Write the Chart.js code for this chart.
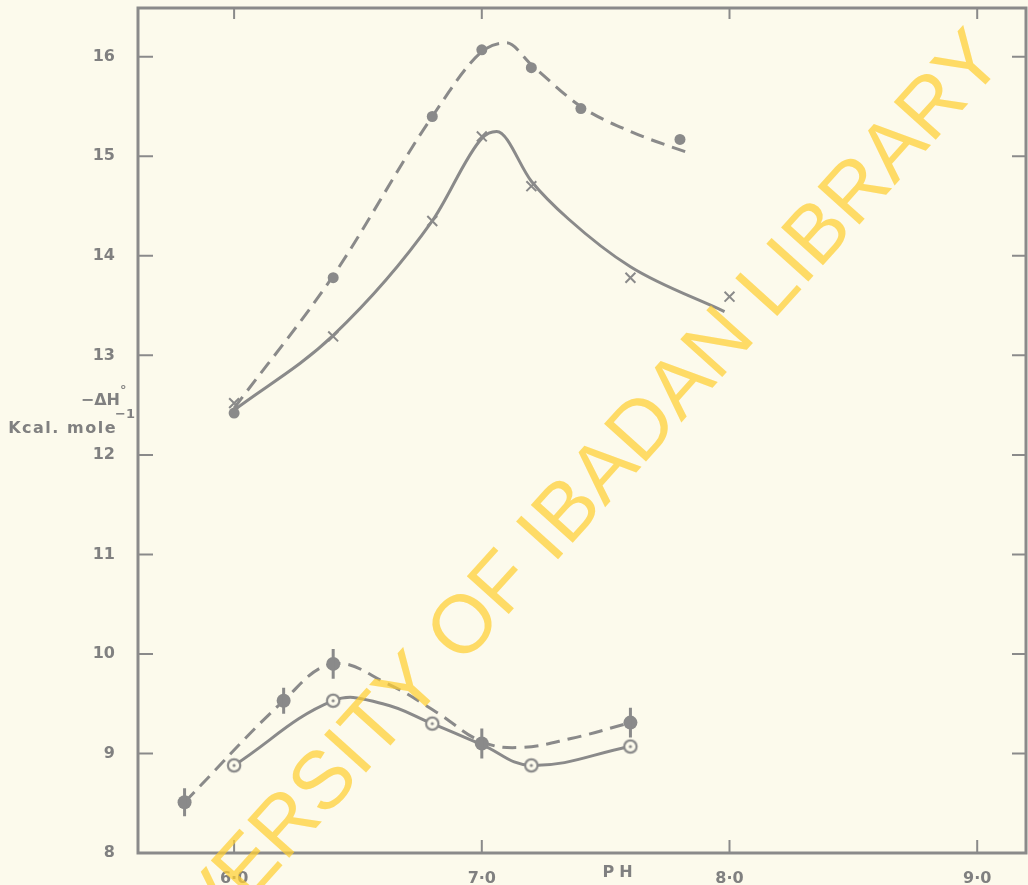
<!DOCTYPE html>
<html>
<head>
<meta charset="utf-8">
<script src="https://cdn.jsdelivr.net/npm/chart.js@4.4.1/dist/chart.umd.min.js"></script>
<style>
  html, body { margin: 0; padding: 0; background: #fcfaec; }
  canvas { display: block; }
</style>
</head>
<body>
<canvas id="dhChart" width="1028" height="885"></canvas>
<script>
// axis ticks
const xTicks = [6, 7, 8, 9];
const yTicks = [8, 9, 10, 11, 12, 13, 14, 15, 16];

// upper pair: filled dots (dashed curve) and crosses (solid curve)
const dotPH = [6.0, 6.4, 6.8, 7.0, 7.2, 7.4, 7.8];
const dotDH = [12.42, 13.78, 15.4, 16.07, 15.89, 15.48, 15.17];
const dotCurvePH = [6.0, 6.4, 6.8, 7.0, 7.1, 7.2, 7.4, 7.6, 7.85];
const dotCurveDH = [12.47, 13.8, 15.4, 16.05, 16.14, 15.92, 15.5, 15.25, 15.02];

const crossPH = [6.0, 6.4, 6.8, 7.0, 7.2, 7.6, 8.0];
const crossDH = [12.52, 13.19, 14.35, 15.2, 14.7, 13.78, 13.59];
const crossCurvePH = [6.0, 6.4, 6.8, 7.0, 7.06, 7.2, 7.35, 7.6, 7.98];
const crossCurveDH = [12.45, 13.2, 14.35, 15.18, 15.25, 14.75, 14.37, 13.89, 13.44];

// lower pair: dots with error bars (dashed) and ringed dots (solid)
const barPH = [5.8, 6.2, 6.4, 7.0, 7.6];
const barDH = [8.51, 9.53, 9.9, 9.1, 9.31];
const barErr = [0.14, 0.13, 0.15, 0.15, 0.15];
const barCurvePH = [5.8, 6.2, 6.4, 6.62, 6.82, 7.0, 7.15, 7.36, 7.6];
const barCurveDH = [8.51, 9.53, 9.9, 9.7, 9.41, 9.12, 9.06, 9.15, 9.31];

const ringPH = [6.0, 6.4, 6.8, 7.2, 7.6];
const ringDH = [8.88, 9.53, 9.3, 8.88, 9.07];
const ringCurvePH = [6.0, 6.4, 6.6, 6.8, 7.0, 7.2, 7.6];
const ringCurveDH = [8.88, 9.53, 9.5, 9.3, 9.09, 8.88, 9.07];

const INK = '#8a8a8a';
const PAPER = '#fcfaec';
const TXT = '#808080';

function pts(xs, ys) {
  return xs.map((x, i) => ({ x: x, y: ys[i] }));
}

// ringed dot marker
const ring = document.createElement('canvas');
ring.width = 18; ring.height = 18;
(function () {
  const c = ring.getContext('2d');
  c.beginPath(); c.arc(9, 9, 6.2, 0, Math.PI * 2);
  c.fillStyle = PAPER; c.fill();
  c.lineWidth = 2.2; c.strokeStyle = INK; c.stroke();
  c.beginPath(); c.arc(9, 9, 1.6, 0, Math.PI * 2);
  c.fillStyle = INK; c.fill();
})();

const curve = (data, dashed, mono) => ({
  type: 'line',
  data: data,
  borderColor: INK,
  borderWidth: 3,
  borderDash: dashed ? [14, 8] : [],
  pointRadius: 0,
  tension: 0.4,
  cubicInterpolationMode: mono ? 'monotone' : 'default',
  fill: false,
  order: 2
});

const paperPlugin = {
  id: 'paper',
  beforeDraw(chart) {
    const ctx = chart.ctx;
    ctx.save();
    ctx.fillStyle = PAPER;
    ctx.fillRect(0, 0, chart.width, chart.height);
    ctx.restore();
  }
};

const framePlugin = {
  id: 'frame',
  afterDatasetsDraw(chart) {
    const ctx = chart.ctx;
    const a = chart.chartArea;
    const xs = chart.scales.x, ys = chart.scales.y;
    ctx.save();
    ctx.strokeStyle = INK;
    ctx.lineWidth = 3;
    ctx.strokeRect(a.left, a.top, a.right - a.left, a.bottom - a.top);
    ctx.lineWidth = 2;
    ctx.beginPath();
    yTicks.forEach(v => {
      const y = ys.getPixelForValue(v);
      if (v > 8) {
        ctx.moveTo(a.left, y); ctx.lineTo(a.left + 15, y);
        ctx.moveTo(a.right, y); ctx.lineTo(a.right - 14, y);
      }
    });
    xTicks.forEach(v => {
      const x = xs.getPixelForValue(v);
      ctx.moveTo(x, a.bottom); ctx.lineTo(x, a.bottom - 13);
      ctx.moveTo(x, a.top); ctx.lineTo(x, a.top + 11);
    });
    ctx.stroke();

    // error bars on the lower dashed series
    ctx.lineWidth = 3;
    ctx.beginPath();
    barPH.forEach((p, i) => {
      const x = xs.getPixelForValue(p);
      ctx.moveTo(x, ys.getPixelForValue(barDH[i] + barErr[i]));
      ctx.lineTo(x, ys.getPixelForValue(barDH[i] - barErr[i]));
    });
    ctx.stroke();

    // axis titles
    ctx.fillStyle = TXT;
    ctx.textBaseline = 'alphabetic';
    ctx.textAlign = 'right';
    ctx.font = 'bold 16px "DejaVu Sans"';
    ctx.fillText('\u2212\u0394H', 120, 405);
    ctx.letterSpacing = '1.5px';
    ctx.fillText('Kcal. mole', 117, 433);
    ctx.letterSpacing = '0px';
    ctx.textAlign = 'left';
    ctx.font = 'bold 13px "DejaVu Sans"';
    ctx.fillText('\u00B0', 120, 394);
    ctx.fillText('\u22121', 115, 418);
    ctx.font = 'bold 16px "DejaVu Sans"';
    ctx.letterSpacing = '5px';
    ctx.textAlign = 'center';
    ctx.fillText('PH', xs.getPixelForValue(7.55) + 2, 877);
    ctx.letterSpacing = '0px';
    ctx.restore();
  }
};

const stampPlugin = {
  id: 'stamp',
  afterDraw(chart) {
    const ctx = chart.ctx;
    ctx.save();
    ctx.translate(545, 540);
    ctx.rotate(-48 * Math.PI / 180);
    ctx.font = '82px "Liberation Sans"';
    ctx.textAlign = 'center';
    ctx.textBaseline = 'middle';
    ctx.fillStyle = 'rgba(255, 206, 50, 0.72)';
    ctx.fillText('UNIVERSITY OF IBADAN LIBRARY', 0, 0);
    ctx.restore();
  }
};

const noPad = s => {
  s.paddingTop = 0; s.paddingBottom = 0;
  s.paddingLeft = 0; s.paddingRight = 0;
};

new Chart(document.getElementById('dhChart'), {
  type: 'scatter',
  data: {
    datasets: [
      {
        data: pts(dotPH, dotDH),
        pointStyle: 'circle',
        pointRadius: 5.5,
        backgroundColor: INK,
        borderColor: INK,
        borderWidth: 0,
        order: 0
      },
      {
        data: pts(crossPH, crossDH),
        pointStyle: 'crossRot',
        pointRadius: 7,
        borderColor: INK,
        borderWidth: 2,
        order: 0
      },
      {
        data: pts(barPH, barDH),
        pointStyle: 'circle',
        pointRadius: 7,
        backgroundColor: INK,
        borderColor: INK,
        borderWidth: 0,
        order: 0
      },
      {
        data: pts(ringPH, ringDH),
        pointStyle: ring,
        order: 0
      },
      curve(pts(dotCurvePH, dotCurveDH), true, true),
      curve(pts(crossCurvePH, crossCurveDH), false, true),
      curve(pts(barCurvePH, barCurveDH), true, false),
      curve(pts(ringCurvePH, ringCurveDH), false, false)
    ]
  },
  options: {
    responsive: false,
    animation: false,
    events: [],
    layout: { autoPadding: false, padding: { top: 8, right: 2, left: 0, bottom: 0 } },
    plugins: {
      legend: { display: false },
      tooltip: { enabled: false }
    },
    scales: {
      x: {
        type: 'linear',
        min: 5.612,
        max: 9.197,
        grid: { display: false },
        border: { display: false },
        afterBuildTicks: s => { s.ticks = xTicks.map(v => ({ value: v })); },
        afterFit: s => { s.height = 32; noPad(s); },
        ticks: {
          padding: 8,
          color: TXT,
          font: { family: 'DejaVu Sans', weight: 'bold', size: 16 },
          callback: v => v.toFixed(1).replace('.', '\u00B7')
        }
      },
      y: {
        type: 'linear',
        min: 8,
        max: 16.49,
        grid: { display: false },
        border: { display: false },
        afterBuildTicks: s => { s.ticks = yTicks.map(v => ({ value: v })); },
        afterFit: s => { s.width = 138; noPad(s); },
        ticks: {
          padding: 15,
          color: TXT,
          font: { family: 'DejaVu Sans', weight: 'bold', size: 16 },
          callback: v => String(v)
        }
      }
    }
  },
  plugins: [paperPlugin, framePlugin, stampPlugin]
});
</script>
</body>
</html>
